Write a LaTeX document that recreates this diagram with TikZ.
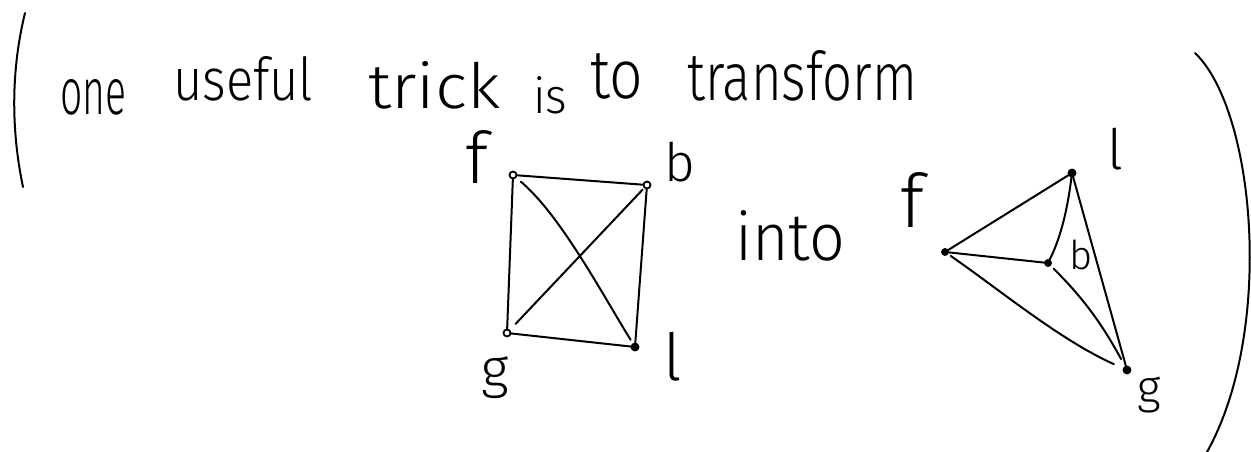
\documentclass[tikz,border=0pt]{standalone}
\usepackage{fontspec}
\setmainfont{Fira Sans}[UprightFont={* Light}]
\usepackage{graphicx}
\begin{document}
\begin{tikzpicture}[x=1pt,y=-1pt, line cap=round, line join=round,
  vtx/.style={circle, draw, inner sep=0pt, minimum size=7pt, line width=1.8pt},
  full/.style={vtx, fill=black},
  open/.style={vtx, fill=white},
  lbl/.style={inner sep=0pt, anchor=center},
  word/.style={inner sep=0pt, anchor=base west},
  edge/.style={line width=2pt},
  paren/.style={line width=2pt}]
\useasboundingbox (0,0) rectangle (1251,452);

% text
\node[word] (w1) at (60,114) {\resizebox{66pt}{35pt}{one}};
\node[word] (w2) at (173,100) {\resizebox{140pt}{44pt}{useful}};
\node[word] (w3) at (368,108) {\resizebox{132pt}{47pt}{trick}};
\node[word] (w4) at (533,113) {\resizebox{34pt}{37pt}{is}};
\node[word] (w5) at (590,99) {\resizebox{53pt}{45pt}{to}};
\node[word] (w6) at (687,100) {\resizebox{230pt}{50pt}{transform}};
\node[word] (w7) at (735,260) {\resizebox{110pt}{50pt}{into}};

% parentheses
\draw[paren] (25,13) .. controls (11,70) and (11,130) .. (23,187);
\draw[paren] (1195,53) .. controls (1255,110) and (1275,330) .. (1207,452);

% left graph
\node[open] (Lf) at (513,175) {};
\node[open] (Lb) at (647,185) {};
\node[open] (Lg) at (507,333) {};
\node[full] (Ll) at (635,347) {};
\node[lbl] (Lfl) at (477,157) {\resizebox*{!}{53pt}{f}};
\node[lbl] (Lbl) at (680,162) {\resizebox*{!}{40pt}{b}};
\node[lbl] (Lgl) at (495,378) {\resizebox*{!}{42pt}{g}};
\node[lbl] (Lll) at (673,357) {\resizebox*{!}{49pt}{l}};

\draw[edge] (Lf) -- (Lb);
\draw[edge] (Lf) -- (Lg);
\draw[edge] (Lb) -- (Ll);
\draw[edge] (Lg) -- (Ll);
\draw[edge, shorten <=6pt, shorten >=4pt] (Lf) .. controls (560,215) and (600,290) .. (Ll);
\draw[edge, shorten <=8pt, shorten >=2pt] (Lg) -- (Lb);

% right graph
\node[full, minimum size=6pt] (Rf) at (945,252) {};
\node[full] (Rl) at (1072,173) {};
\node[full, minimum size=6pt] (Rb) at (1048,263) {};
\node[full] (Rg) at (1127,370) {};
\node[lbl] (Rfl) at (912,200) {\resizebox*{!}{55pt}{f}};
\node[lbl] (Rll) at (1115,149) {\resizebox*{!}{42pt}{l}};
\node[lbl] (Rbl) at (1081,255) {\resizebox*{!}{30pt}{b}};
\node[lbl] (Rgl) at (1149,395) {\resizebox*{!}{36pt}{g}};

\draw[edge] (Rf) -- (Rl);
\draw[edge] (Rl) .. controls (1068,205) and (1062,235) .. (Rb);
\draw[edge] (Rl) -- (Rg);
\draw[edge] (Rf) -- (Rb);
\draw[edge, shorten <=4pt, shorten >=8pt] (Rb) .. controls (1080,295) and (1100,320) .. (Rg);
\draw[edge, shorten <=3pt, shorten >=10pt] (Rf) .. controls (1000,290) and (1060,340) .. (Rg);
\end{tikzpicture}
\end{document}
